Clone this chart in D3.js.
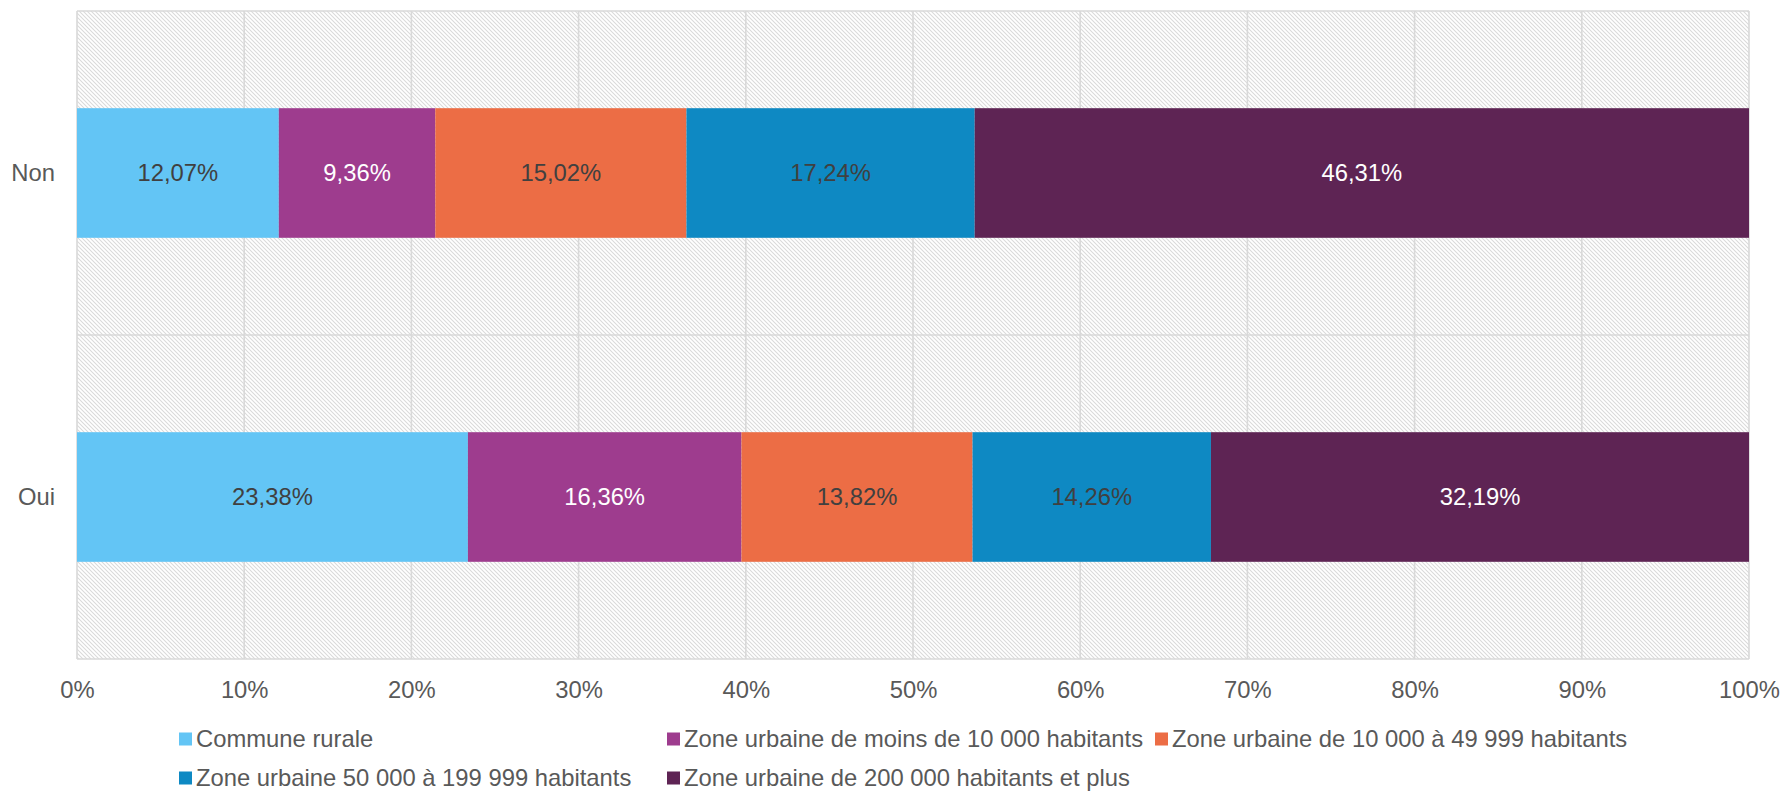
<!DOCTYPE html>
<html>
<head>
<meta charset="utf-8">
<script src="https://cdn.jsdelivr.net/npm/d3@7"></script>
<style>
  html, body { margin: 0; padding: 0; background: #ffffff; }
  svg { display: block; font-family: "Liberation Sans", Arial, sans-serif; }
</style>
</head>
<body>
<svg id="chart" width="1783" height="792"></svg>
<script>
const categories = ["Non", "Oui"];
const seriesNames = [
  "Commune rurale",
  "Zone urbaine de moins de 10 000 habitants",
  "Zone urbaine de 10 000 à 49 999 habitants",
  "Zone urbaine 50 000 à 199 999 habitants",
  "Zone urbaine de 200 000 habitants et plus"
];
const communeRurale   = [12.07, 23.38];
const moins10000      = [9.36, 16.36];
const de10000a49999   = [15.02, 13.82];
const de50000a199999  = [17.24, 14.26];
const plus200000      = [46.31, 32.19];
const seriesValues = [communeRurale, moins10000, de10000a49999, de50000a199999, plus200000];
const tickValues = [0, 10, 20, 30, 40, 50, 60, 70, 80, 90, 100];

const colors = ["#63c5f5", "#9e3c8e", "#ec6d45", "#0e89c3", "#5e2454"];
const labelColors = ["#404040", "#ffffff", "#404040", "#404040", "#ffffff"];

const svg = d3.select("#chart");
const margin = { left: 77, right: 1783 - 1749, top: 11, bottom: 792 - 659 };
const W = 1783, H = 792;
const x0 = margin.left, x1 = W - margin.right, y0 = margin.top, y1 = H - margin.bottom;
const FS = "23.8px";

const x = d3.scaleLinear().domain([0, 100]).range([x0, x1]);
const y = d3.scaleBand().domain(categories).range([y0, y1]).paddingInner(0.6).paddingOuter(0.3);
const yOuter = d3.scaleBand().domain(categories).range([y0, y1]);

// hatch pattern
const defs = svg.append("defs");
const pat = defs.append("pattern")
  .attr("id", "hatch").attr("patternUnits", "userSpaceOnUse")
  .attr("width", 4).attr("height", 4);
pat.append("path").attr("d", "M-1,-1 L5,5 M-1,3 L1,5 M3,-1 L5,1")
  .attr("stroke", "#dadada").attr("stroke-width", 1.1).attr("fill", "none");

svg.append("rect").attr("x", x0).attr("y", y0).attr("width", x1 - x0).attr("height", y1 - y0)
  .attr("fill", "url(#hatch)");

// grid
const gridColor = "#d9d9d9";
svg.append("g").selectAll("line").data(tickValues).join("line")
  .attr("x1", d => x(d)).attr("x2", d => x(d))
  .attr("y1", y0).attr("y2", y1)
  .attr("stroke", gridColor).attr("stroke-width", 1.6);
const hLines = [y0, ...categories.slice(1).map(c => yOuter(c)), y1];
svg.append("g").selectAll("line").data(hLines).join("line")
  .attr("x1", x0).attr("x2", x1).attr("y1", d => d).attr("y2", d => d)
  .attr("stroke", gridColor).attr("stroke-width", 1.6);

// stacked data
const rows = categories.map((c, i) => {
  const r = { cat: c };
  seriesNames.forEach((s, j) => r[s] = seriesValues[j][i]);
  return r;
});
const stack = d3.stack().keys(seriesNames)(rows);

const fmt = v => v.toFixed(2).replace(".", ",") + "%";

const layers = svg.append("g").selectAll("g").data(stack).join("g")
  .attr("fill", (d, i) => colors[i]);
layers.selectAll("rect").data(d => d).join("rect")
  .attr("x", d => x(d[0]))
  .attr("width", d => Math.min(x(d[1]), x1) - x(d[0]))
  .attr("y", d => y(d.data.cat))
  .attr("height", y.bandwidth());

const labels = svg.append("g").attr("font-size", FS).attr("text-anchor", "middle");
stack.forEach((layer, i) => {
  labels.selectAll(null).data(layer).join("text")
    .attr("x", d => (x(d[0]) + x(d[1])) / 2)
    .attr("y", d => y(d.data.cat) + y.bandwidth() / 2)
    .attr("dy", "0.35em")
    .attr("fill", labelColors[i])
    .text(d => fmt(d[1] - d[0]));
});

// x axis labels
const xAxis = d3.axisBottom(x).tickValues(tickValues).tickFormat(d => d + "%").tickSize(0).tickPadding(0);
const gx = svg.append("g").attr("transform", `translate(0,${y1})`).call(xAxis);
gx.select(".domain").remove();
gx.selectAll("text").attr("font-size", FS).attr("fill", "#595959")
  .attr("font-family", "Liberation Sans, Arial, sans-serif")
  .attr("y", 31).attr("dy", "0.35em");

// y axis labels
const yAxis = d3.axisLeft(y).tickSize(0).tickPadding(0);
const gy = svg.append("g").attr("transform", `translate(${x0 - 22},0)`).call(yAxis);
gy.select(".domain").remove();
gy.selectAll("text").attr("font-size", FS).attr("fill", "#595959")
  .attr("font-family", "Liberation Sans, Arial, sans-serif").attr("dy", "0.35em");

// legend
const legX = 179, colW = 488, rowYs = [739, 778], perRow = 3, sq = 13;
const leg = svg.append("g");
seriesNames.forEach((s, i) => {
  const cx = legX + (i % perRow) * colW;
  const cy = rowYs[Math.floor(i / perRow)];
  leg.append("rect").attr("x", cx).attr("y", cy - sq / 2).attr("width", sq).attr("height", sq)
    .attr("fill", colors[i]);
  leg.append("text").attr("x", cx + sq + 4).attr("y", cy).attr("dy", "0.35em")
    .attr("font-size", FS).attr("fill", "#595959").text(s);
});
</script>
</body>
</html>
